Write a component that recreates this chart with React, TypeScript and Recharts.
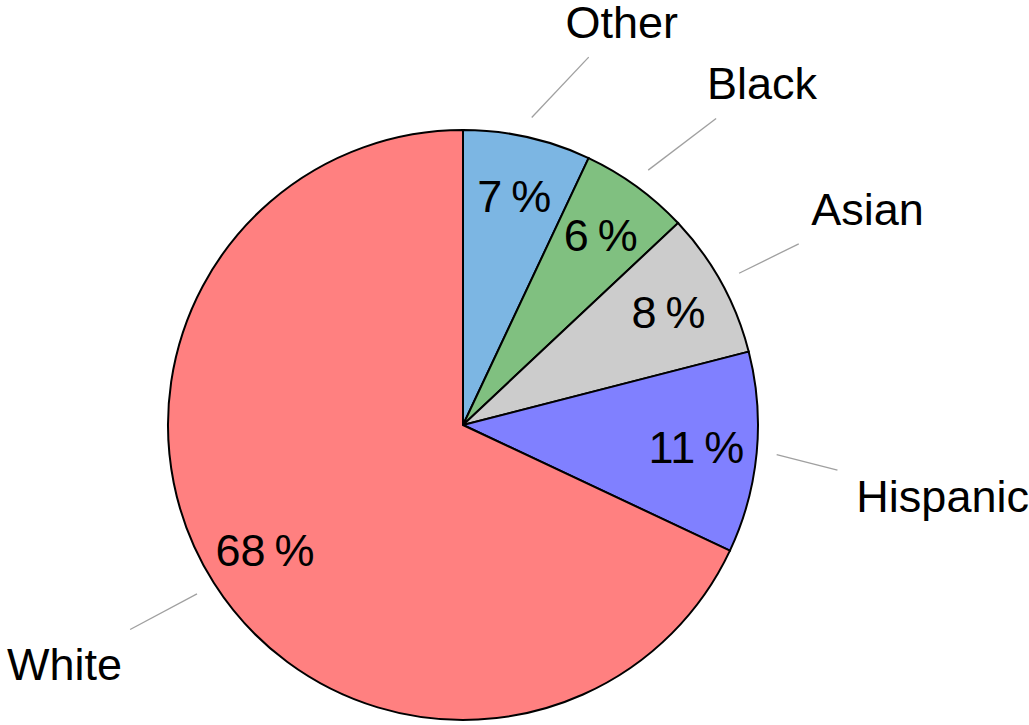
import { Cell, Pie, PieChart } from "recharts";

const GROUPS = ["Other", "Black", "Asian", "Hispanic", "White"];
const SHARES = [7, 6, 8, 11, 68];
const COLORS = ["#7cb6e3", "#80c080", "#cccccc", "#8080ff", "#ff8080"];

// outer label placement: clockwise nudge (deg) and distance as a multiple of the radius
const LABEL_NUDGE = [8.9, 5.2, 0.8, 3.1, 1.4];
const LABEL_DIST = [1.468, 1.539, 1.553, 1.644, 1.576];

const FONT = "'Liberation Sans', Arial, sans-serif";
const FONT_SIZE = 45;
const RADIAN = Math.PI / 180;

const data = GROUPS.map((name, i) => ({ name, value: SHARES[i] }));

const polar = (cx: number, cy: number, r: number, angle: number) => ({
  x: cx + r * Math.cos(-angle * RADIAN),
  y: cy + r * Math.sin(-angle * RADIAN),
});

const SliceLabel = (props: any) => {
  const { cx, cy, midAngle, outerRadius, index, name, value } = props;

  const inner = polar(cx, cy, outerRadius * 0.795, midAngle);
  const start = polar(cx, cy, outerRadius * 1.068, midAngle);
  const text = polar(
    cx,
    cy,
    outerRadius * LABEL_DIST[index],
    midAngle - LABEL_NUDGE[index],
  );

  // stop the pin line at the label's box
  const dx = start.x - text.x;
  const dy = start.y - text.y;
  const len = Math.hypot(dx, dy);
  const ux = dx / len;
  const uy = dy / len;
  const halfW = String(name).length * FONT_SIZE * 0.27 + 8;
  const halfH = 35;
  const t = Math.min(
    Math.abs(ux) > 1e-6 ? halfW / Math.abs(ux) : Infinity,
    Math.abs(uy) > 1e-6 ? halfH / Math.abs(uy) : Infinity,
  );
  const end = { x: text.x + ux * t, y: text.y + uy * t };

  return (
    <g>
      <line
        x1={start.x}
        y1={start.y}
        x2={end.x}
        y2={end.y}
        stroke="#a0a0a0"
        strokeWidth={1.3}
      />
      <text
        x={text.x}
        y={text.y}
        textAnchor="middle"
        dominantBaseline="central"
        fontFamily={FONT}
        fontSize={FONT_SIZE}
        fill="#000"
      >
        {name}
      </text>
      <text
        x={inner.x}
        y={inner.y}
        textAnchor="middle"
        dominantBaseline="central"
        fontFamily={FONT}
        fontSize={FONT_SIZE}
        fill="#000"
      >
        {`${value}\u2009%`}
      </text>
    </g>
  );
};

export default function App() {
  return (
    <div
      style={{
        position: "absolute",
        top: 0,
        left: 0,
        width: 1029,
        height: 725,
        background: "#ffffff",
      }}
    >
      <PieChart width={1029} height={725} margin={{ top: 0, right: 0, bottom: 0, left: 0 }}>
        <Pie
          data={data}
          dataKey="value"
          nameKey="name"
          cx={463}
          cy={425}
          outerRadius={295}
          startAngle={90}
          endAngle={-270}
          stroke="#000"
          strokeWidth={2}
          label={SliceLabel}
          labelLine={false}
          isAnimationActive={false}
        >
          {data.map((d, i) => (
            <Cell key={d.name} fill={COLORS[i]} />
          ))}
        </Pie>
      </PieChart>
    </div>
  );
}
